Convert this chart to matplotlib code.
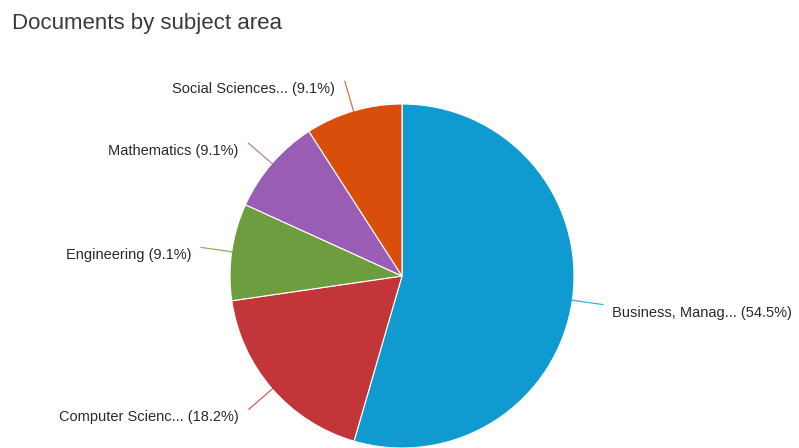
import numpy as np
import matplotlib.pyplot as plt

plt.rcParams['font.family'] = ['Liberation Sans', 'DejaVu Sans']

subjects = ["Business, Manag...", "Computer Scienc...", "Engineering",
            "Mathematics", "Social Sciences..."]
shares = [54.5, 18.2, 9.1, 9.1, 9.1]
colors = ["#0f9bcf", "#c2363a", "#6e9d40", "#9a5db5", "#da4e0b"]

W, H = 799, 448
fig = plt.figure(figsize=(W / 100, H / 100), dpi=100)
ax = fig.add_axes([0, 0, 1, 1])

cx, cy, R = 402, H - 276, 172

wedges, _ = ax.pie(shares, colors=colors, startangle=90, counterclock=False,
                   center=(cx, cy), radius=R, frame=True,
                   wedgeprops=dict(edgecolor='white', linewidth=0.8))
ax.set_xlim(0, W)
ax.set_ylim(0, H)
ax.set_aspect('equal')
ax.axis('off')

# leader lines and labels
total = sum(shares)
start = 0.0
for name, val, col in zip(subjects, shares, colors):
    mid = np.radians(start + val / total * 360 / 2)
    start += val / total * 360
    dx, dy = np.sin(mid), np.cos(mid)
    x0, y0 = cx + R * 0.995 * dx, cy + R * 0.995 * dy
    x1, y1 = cx + R * 1.18 * dx, cy + R * 1.18 * dy
    ax.plot([x0, x1], [y0, y1], color=col, lw=0.9, alpha=0.8)
    label = f"{name} ({val}%)"
    if dx > 0:
        ax.text(x1 + 9, y1 - 8, label, ha='left', va='center',
                fontsize=10.5, color='#2a2a2a')
    else:
        ax.text(x1 - 10, y1 - 8, label, ha='right', va='center',
                fontsize=10.5, color='#2a2a2a')

fig.text(12 / W, 1 - 23 / H, "Documents by subject area", fontsize=16,
         color='#3a3a3a', ha='left', va='center')

fig.savefig("out.png", dpi=100)
